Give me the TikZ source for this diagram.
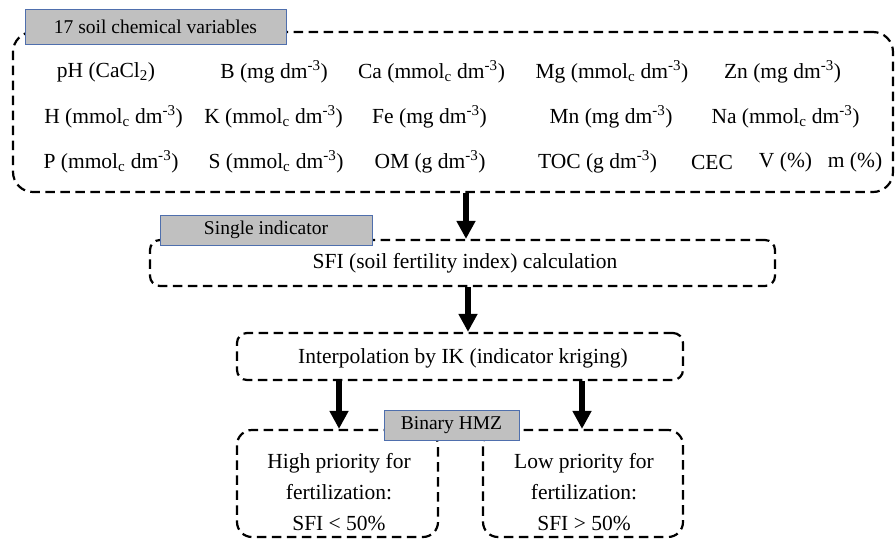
\documentclass[tikz,border=0pt]{standalone}
\usepackage{fontspec}
\setmainfont{Liberation Serif}
\usetikzlibrary{arrows.meta}
\definecolor{taggray}{HTML}{C0C0C0}
\definecolor{tagblue}{HTML}{4F6FAD}
\newcommand{\mmc}{mmol\textsubscript{c}~dm\textsuperscript{-3}}
\newcommand{\mgd}{mg~dm\textsuperscript{-3}}
\newcommand{\gd}{g~dm\textsuperscript{-3}}
\begin{document}
\begin{tikzpicture}[x=1pt,y=-1pt,
 dbox/.style={draw, dash pattern=on 9.5pt off 5.5pt, line width=2.2pt, rounded corners=10pt, inner sep=0pt},
 tagbox/.style={draw=tagblue, fill=taggray, line width=0.8pt, inner sep=0pt, font=\fontsize{19.5}{23}\selectfont},
 txt/.style={inner sep=0pt, font=\fontsize{21.5}{26}\selectfont},
 bigarrow/.style={line width=6pt, -{Triangle[width=18pt,length=18pt]}}]
\useasboundingbox (0,0) rectangle (896,539);

% boxes
\node[dbox, rounded corners=20pt, minimum width=880pt, minimum height=160pt] (top) at (453,112) {};
\node[tagbox, minimum width=261pt, minimum height=35pt] (toptag) at (155.5,26.5) {17 soil chemical variables};

\node[dbox, minimum width=625pt, minimum height=46pt] (sfi) at (462.5,263) {};
\node[tagbox, minimum width=212pt, minimum height=30pt] (sfitag) at (266,230) {Single indicator};
\node[txt] (sfitxt) at (465,263) {SFI (soil fertility index) calculation};

\node[dbox, minimum width=446pt, minimum height=47pt] (ik) at (460,356.5) {};
\node[txt] (iktxt) at (463,358) {Interpolation by IK (indicator kriging)};

\node[dbox, rounded corners=15pt, minimum width=201pt, minimum height=107pt] (high) at (337.5,483.5) {};
\node[dbox, rounded corners=15pt, minimum width=200pt, minimum height=107pt] (low) at (583,483.5) {};
\node[tagbox, minimum width=135pt, minimum height=30pt] (hmz) at (451.5,425) {Binary HMZ};
\node[txt, align=center, font=\fontsize{21.5}{31}\selectfont] (hightxt) at (339,492) {High priority for\\fertilization:\\SFI < 50\%};
\node[txt, align=center, font=\fontsize{21.5}{31}\selectfont] (lowtxt) at (584,492) {Low priority for\\fertilization:\\SFI > 50\%};

% variables
\node[txt] (v1) at (106,72) {pH (CaCl\textsubscript{2})};
\node[txt] (v2) at (274,72) {B (\mgd)};
\node[txt] (v3) at (431.5,72) {Ca (\mmc)};
\node[txt] (v4) at (612,72) {Mg (\mmc)};
\node[txt] (v5) at (782.5,72) {Zn (\mgd)};
\node[txt] (v6) at (113.5,117) {H (\mmc)};
\node[txt] (v7) at (273.5,117) {K (\mmc)};
\node[txt] (v8) at (429.5,117) {Fe (\mgd)};
\node[txt] (v9) at (611,117) {Mn (\mgd)};
\node[txt] (v10) at (785.5,117) {Na (\mmc)};
\node[txt] (v11) at (111,162) {P (\mmc)};
\node[txt] (v12) at (276,162) {S (\mmc)};
\node[txt] (v13) at (430,162) {OM (\gd)};
\node[txt] (v14) at (597.5,162) {TOC (\gd)};
\node[txt] (v15) at (712,162) {CEC};
\node[txt] (v16) at (785.5,162) {V (\%)};
\node[txt] (v17) at (855,162) {m (\%)};

% arrow columns
\coordinate (c1) at (466,0);
\coordinate (c2) at (468,0);
\coordinate (c3) at (339,0);
\coordinate (c4) at (582,0);
\draw[bigarrow] (top.south -| c1) -- (sfi.north -| c1);
\draw[bigarrow] (sfi.south -| c2) -- (ik.north -| c2);
\draw[bigarrow] (ik.south -| c3) -- (high.north -| c3);
\draw[bigarrow] (ik.south -| c4) -- (low.north -| c4);
\end{tikzpicture}
\end{document}
